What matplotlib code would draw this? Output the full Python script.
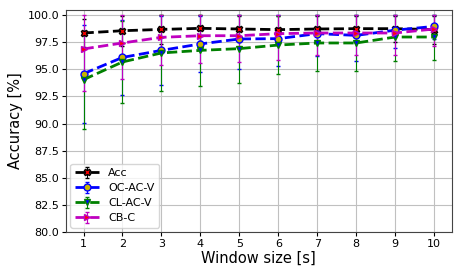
import numpy as np
import matplotlib
matplotlib.use("Agg")
import matplotlib.pyplot as plt

window = [1, 2, 3, 4, 5, 6, 7, 8, 9, 10]

acc_mean = [98.34, 98.55, 98.67, 98.77, 98.71, 98.65, 98.71, 98.74, 98.74, 98.65]
acc_std = [1.3, 1.4, 1.3, 1.2, 1.2, 1.3, 1.2, 1.2, 1.2, 1.3]

oc_mean = [94.59, 96.09, 96.74, 97.33, 97.79, 97.82, 98.28, 98.12, 98.60, 98.95]
oc_std = [4.5, 3.45, 3.15, 2.55, 2.8, 2.5, 2.1, 2.4, 1.65, 1.2]

cl_mean = [94.04, 95.67, 96.50, 96.74, 96.90, 97.23, 97.42, 97.42, 97.97, 97.97]
cl_std = [4.5, 3.75, 3.55, 3.25, 3.15, 2.65, 2.55, 2.6, 2.25, 2.1]

cb_mean = [96.87, 97.42, 97.94, 98.09, 98.09, 98.28, 98.34, 98.34, 98.34, 98.71]
cb_std = [3.85, 3.3, 2.55, 2.5, 2.4, 2.4, 2.05, 2.05, 2.05, 1.6]

labels = ["Acc", "OC-AC-V", "CL-AC-V", "CB-C"]

fig = plt.figure(figsize=(4.63, 2.73), dpi=100)
ax = fig.add_axes([0.1425, 0.15, 0.833, 0.815])

series = [
    (acc_mean, acc_std, "black", "X", "red", "black"),
    (oc_mean, oc_std, "blue", "o", "#c8b400", "blue"),
    (cl_mean, cl_std, "green", "v", "blue", "green"),
    (cb_mean, cb_std, "m", ">", "red", "m"),
]

for (m, s, c, mk, mfc, mec), lab in zip(series, labels):
    m = np.array(m)
    s = np.array(s)
    upper = np.minimum(s, 100 - m)
    ax.errorbar(window, m, yerr=[s, upper], color=c, ls="--", lw=2,
                marker=mk, markersize=5, markerfacecolor=mfc,
                markeredgecolor=mec, markeredgewidth=1,
                elinewidth=0.8, capsize=1.2, label=lab)

ax.set_xlim(0.55, 10.45)
ax.set_ylim(80, 100.5)
ax.set_xticks(window)
ax.set_yticks(np.arange(80, 100.1, 2.5))
ax.yaxis.set_major_formatter(matplotlib.ticker.FormatStrFormatter('%.1f'))
ax.grid(True, color="#c0c0c0", lw=0.8)
ax.set_axisbelow(True)
ax.tick_params(labelsize=8, length=3, pad=2)
ax.set_xlabel("Window size [s]", fontsize=10.5, labelpad=1)
ax.set_ylabel("Accuracy [%]", fontsize=10.5, labelpad=3)
for sp in ax.spines.values():
    sp.set_color("#444444")
ax.legend(loc="lower left", fontsize=8, handlelength=2.2, borderpad=0.4,
          labelspacing=0.45, borderaxespad=0.4)

fig.savefig("out.png", dpi=100)
